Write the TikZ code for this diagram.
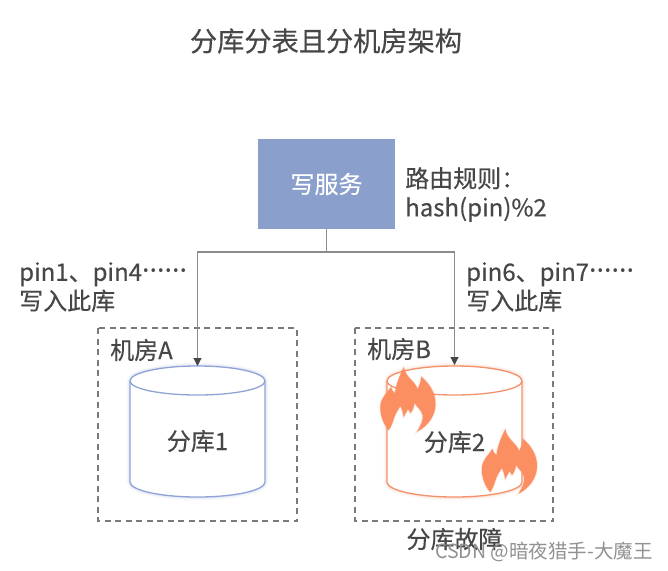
\documentclass[tikz,border=0pt]{standalone}
\usepackage{fontspec}
\setmainfont[FakeBold=0.35]{Noto Sans CJK SC}
\newfontfamily\dotfont{Noto Sans}
\newfontfamily\wmfont{Noto Sans CJK SC}
\usetikzlibrary{arrows.meta}
\definecolor{txt}{HTML}{474747}
\definecolor{boxblue}{HTML}{8A9FCC}
\definecolor{cylblue}{HTML}{8FA3D6}
\definecolor{cylor}{HTML}{F2926A}
\definecolor{flame}{HTML}{FB8F62}
\definecolor{linegray}{HTML}{8C8C8C}
\definecolor{dashgray}{HTML}{7A7A7A}
\newcommand{\dotrun}{{\dotfont\fontsize{28}{28}\selectfont ······}}
\tikzset{
  x=1pt,y=-1pt,
  lbl/.style={text=txt,inner sep=0pt,font=\fontsize{24}{29}\selectfont,align=left},
  conn/.style={draw=linegray,line width=1.1pt},
  arrowconn/.style={conn,-{Triangle[length=8pt,width=8pt,fill=txt,color=txt]}},
  room/.style={draw=dashgray,line width=1.1pt,dash pattern=on 6pt off 4.5pt},
  flameshape/.pic={
    \fill[flame,draw=flame,draw opacity=0.25,line width=1.5pt] (-19.3,46)
      .. controls (-25,40) and (-28,30) .. (-27.7,22.7)
      .. controls (-27.5,14) and (-21,9) .. (-17,3)
      .. controls (-16.5,6) and (-15,8) .. (-13,9)
      .. controls (-12,0) and (-8,-9) .. (-4.3,-16.7)
      .. controls (-2,-6) and (7,-3) .. (9.5,5)
      .. controls (12,1) and (13,-4) .. (13.3,-7.3)
      .. controls (22,0) and (28,10) .. (27.5,21)
      .. controls (27,32) and (20,42) .. (9,47.7)
      .. controls (13,41) and (15.5,36) .. (14.5,31)
      .. controls (13.5,26) and (9,23) .. (6.5,19)
      .. controls (6,23) and (4.5,27) .. (2.5,29)
      -- (0,25) -- (-4.3,33)
      .. controls (-5,29) and (-6,25) .. (-7.7,22)
      .. controls (-10,26) and (-13,30) .. (-14.3,35)
      .. controls (-15.5,39) and (-17,43) .. (-19.3,46) -- cycle;
  }
}
\newcommand{\cyl}[2]{%
  \foreach \w/\o in {7/0.05,4.5/0.08,2.6/0.12}{
    \draw[#2,line width=\w pt,opacity=\o] (#1,381) -- (#1,482) arc[start angle=180,end angle=360,x radius=67.5pt,y radius=15pt] -- (#1+135,381) arc[start angle=0,end angle=180,x radius=67.5pt,y radius=15pt] -- cycle;
  }
  \draw[#2,line width=1.3pt,fill=white] (#1,381) -- (#1,482) arc[start angle=180,end angle=360,x radius=67.5pt,y radius=15pt] -- (#1+135,381) arc[start angle=0,end angle=180,x radius=67.5pt,y radius=15pt];
  \draw[#2,line width=1.3pt] (#1,381) arc[start angle=180,end angle=360,x radius=67.5pt,y radius=14pt];
}
\begin{document}
\begin{tikzpicture}
\useasboundingbox[fill=white] (0,0) rectangle (668,570);

\node[lbl,font=\fontsize{27.2}{32}\selectfont] (title) at (326,41) {分库分表且分机房架构};

\node[fill=boxblue,minimum width=137pt,minimum height=90pt,inner sep=0pt,outer sep=0pt,text=white,font=\fontsize{24}{29}\selectfont] (svc) at (326.5,184) {\raisebox{-2pt}{写服务}};
\node[lbl,anchor=north west] (rule) at (405,167) {路由规则：\\hash(pin)\%2};

\draw[room] (98,328) rectangle (297,521);
\draw[room] (355,328) rectangle (553,521);
\node[lbl,anchor=west] (roomA) at (110,350) {机房A};
\node[lbl,anchor=west] (roomB) at (367,349) {机房B};

\cyl{130}{cylblue}
\cyl{387}{cylor}
\coordinate (dbA) at (197.5,366);
\coordinate (dbB) at (454.5,365);
\coordinate (split) at (326.5,252);

\draw[conn] (svc.south) -- (split);
\draw[arrowconn] (split) -| (dbA);
\draw[arrowconn] (split) -| (dbB);

\node[lbl,anchor=north west] (pa) at (19,262) {pin1、pin4\dotrun\\写入此库};
\node[lbl,anchor=north west] (pb) at (466,262) {pin6、pin7\dotrun\\写入此库};

\node[lbl] (db1) at (197.5,441) {分库1};
\node[lbl] (db2) at (454.5,442) {分库2};

\pic at (408,384) {flameshape};
\pic at (509.5,446) {flameshape};

\node[lbl] (fail) at (454.5,539) {分库故障};
\node[text=txt!60,inner sep=0pt,font=\wmfont\fontsize{19.5}{24}\selectfont] (wm) at (544,552) {CSDN @暗夜猎手-大魔王};
\end{tikzpicture}
\end{document}
